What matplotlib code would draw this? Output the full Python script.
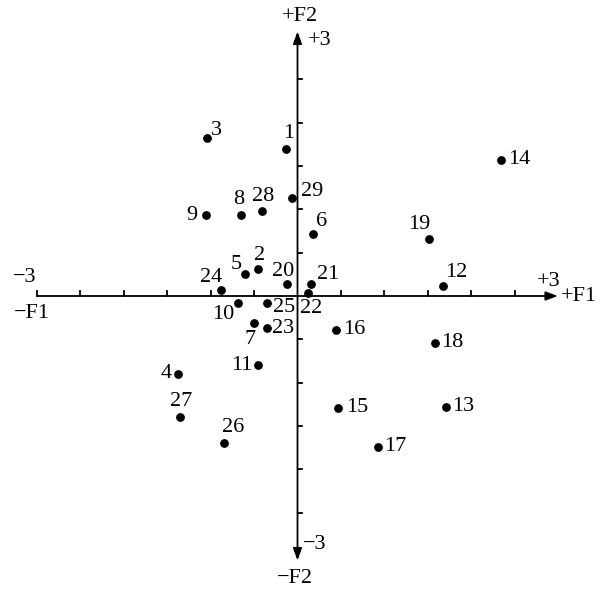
import numpy as np
import matplotlib
matplotlib.use("Agg")
import matplotlib.pyplot as plt

plt.rcParams['font.family'] = ['Liberation Serif', 'DejaVu Serif']

# sample scores on the first two factors
labels = [str(i) for i in range(1, 30)]
f1 = [-0.13, -0.45, -1.04, -1.38, -0.61, 0.18, -0.50, -0.65, -1.05, -0.69,
      -0.45, 1.68, 1.71, 2.34, 0.47, 0.44, 0.93, 1.58, 1.52, -0.12,
      0.16, 0.12, -0.35, -0.88, -0.35, -0.85, -1.35, -0.41, -0.06]
f2 = [1.69, 0.31, 1.82, -0.90, 0.25, 0.72, -0.31, 0.93, 0.93, -0.08,
      -0.80, 0.11, -1.28, 1.57, -1.29, -0.39, -1.74, -0.54, 0.66, 0.14,
      0.14, 0.04, -0.37, 0.07, -0.08, -1.69, -1.40, 0.98, 1.13]

# label offsets in pixels (dx, dy)
offsets = {
    '1': (2, 16), '2': (1, 14), '3': (9, 8), '4': (-12, 1), '5': (-8, 10),
    '6': (8, 12), '7': (-4, -17), '8': (-2, 16), '9': (-15, 0), '10': (-14, -12),
    '11': (-17, 0), '12': (13, 14), '13': (17, 0), '14': (19, 0), '15': (19, 0),
    '16': (19, 0), '17': (17, 0), '18': (18, 0), '19': (-10, 14), '20': (-4, 12),
    '21': (17, 9), '22': (3, -16), '23': (16, 0), '24': (-10, 12), '25': (17, -5),
    '26': (9, 15), '27': (1, 16), '28': (1, 15), '29': (20, 7),
}

fig = plt.figure(figsize=(6.01, 5.90), dpi=100)
ax = fig.add_axes([0, 0, 1, 1])
ax.set_xlim(-3.427, 3.496)
ax.set_ylim(-3.391, 3.414)
ax.axis('off')

lw = 1.3
head = '-|>,head_length=0.6,head_width=0.22'
ax.annotate('', xy=(3.0, 0), xytext=(-3.0, 0),
            arrowprops=dict(arrowstyle=head, lw=lw, color='black',
                            shrinkA=0, shrinkB=0, mutation_scale=12))
ax.annotate('', xy=(0, 3.05), xytext=(0, 0),
            arrowprops=dict(arrowstyle=head, lw=lw, color='black',
                            shrinkA=0, shrinkB=0, mutation_scale=12))
ax.annotate('', xy=(0, -3.05), xytext=(0, 0),
            arrowprops=dict(arrowstyle=head, lw=lw, color='black',
                            shrinkA=0, shrinkB=0, mutation_scale=12))

# ticks every 0.5
tl = 0.055
for t in np.arange(-3, 3, 0.5):
    if abs(t) < 1e-9:
        continue
    ax.plot([t, t], [0, tl], color='black', lw=lw)
for t in np.arange(-2.5, 3, 0.5):
    if abs(t) < 1e-9:
        continue
    ax.plot([0, tl], [t, t], color='black', lw=lw)

ax.scatter(f1, f2, s=28, color='black', zorder=3)

fs = 16
for lab, x, y in zip(labels, f1, f2):
    ax.annotate(lab, (x, y), xytext=offsets[lab], textcoords='offset pixels',
                ha='center', va='center', fontsize=fs)

ax.text(0.03, 3.22, '+F2', ha='center', va='center', fontsize=fs)
ax.text(0.25, 2.95, '+3', ha='center', va='center', fontsize=fs)
ax.text(0.20, -2.87, '\u22123', ha='center', va='center', fontsize=fs)
ax.text(-0.03, -3.255, '\u2212F2', ha='center', va='center', fontsize=fs)
ax.text(-3.14, 0.21, '\u22123', ha='center', va='center', fontsize=fs)
ax.text(-3.06, -0.20, '\u2212F1', ha='center', va='center', fontsize=fs)
ax.text(2.89, 0.17, '+3', ha='center', va='center', fontsize=fs)
ax.text(3.24, -0.01, '+F1', ha='center', va='center', fontsize=fs)

fig.savefig('out.png', dpi=100)
